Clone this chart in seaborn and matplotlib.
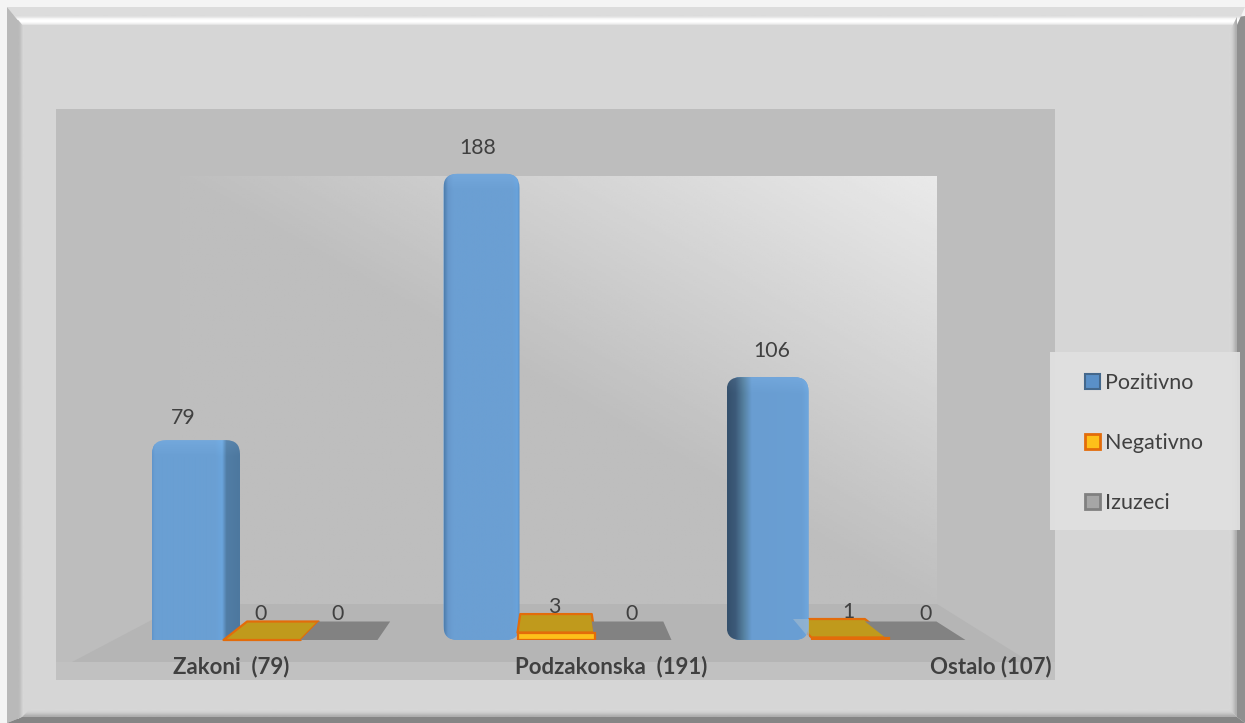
import numpy as np
import pandas as pd
import matplotlib
matplotlib.use("Agg")
import matplotlib.pyplot as plt
import seaborn as sns
from matplotlib.patches import FancyBboxPatch, Polygon, Rectangle, Patch
from matplotlib.transforms import ScaledTranslation

categories = ["Zakoni  (79)", "Podzakonska  (191)", "Ostalo (107)"]
series_names = ["Pozitivno", "Negativno", "Izuzeci"]
pozitivno = [79, 188, 106]
negativno = [0, 3, 1]
izuzeci = [0, 0, 0]

W, H = 1245, 723
TEXT = "#404040"

sns.set_theme(style="white")
plt.rcParams["font.family"] = ["Lato", "DejaVu Sans"]

df = pd.DataFrame({
    "kategorija": categories * 3,
    "serija": np.repeat(series_names, 3),
    "broj": pozitivno + negativno + izuzeci,
})

fig = plt.figure(figsize=(W / 100, H / 100), dpi=100, facecolor="#f4f4f4")

# pozadina u pikselima: okvir, panel, zidovi i pod
bg = fig.add_axes([0, 0, 1, 1], zorder=0)
bg.set_xlim(0, W)
bg.set_ylim(H, 0)
bg.axis("off")


def poly(points, color, z=1):
    p = Polygon(points, closed=True, facecolor=color, edgecolor="none", zorder=z)
    bg.add_patch(p)
    return p


def rect(x, y, w, h, color, z=1, alpha=None):
    bg.add_patch(Rectangle((x, y), w, h, facecolor=color, edgecolor="none", zorder=z, alpha=alpha))


def strip(values, extent, clip, vertical=True, z=2):
    arr = np.array(values, dtype=float)
    arr = arr[:, None] if vertical else arr[None, :]
    im = bg.imshow(arr, extent=extent, cmap="gray", vmin=0, vmax=1, aspect="auto",
                   interpolation="bilinear", zorder=z)
    im.set_clip_path(clip)


L, R, T, B = 7, 1245, 7, 723
IL, IR, IT, IB = 22, 1237, 25, 717
rect(IL, IT, IR - IL, IB - IT, "#d6d6d6", 1)
top_band = poly([(L, T), (R, T), (IR, IT), (IL, IT)], "#dcdcdc", 2)
left_band = poly([(L, T), (IL, IT), (IL, IB), (L, B)], "#b9b9b9", 2)
poly([(R, T + 9), (R, B), (IR, IB), (IR, IT - 8)], "#8f8f8f", 2)
poly([(L, B), (IL, IB), (IR, IB), (R, B)], "#858585", 2)
strip([0.86, 0.9, 0.97, 1, 1, 0.96, 0.89, 0.84], (L, R, 27, 15), top_band)
right_in = poly([(1229, 33), (IR, IT - 8), (IR, IB), (1229, 709)], "#d6d6d6", 2)
bottom_in = poly([(30, 709), (1229, 709), (IR, IB), (IL, IB)], "#d6d6d6", 2)
left_in = poly([(18, 20), (24, 27), (24, 715), (18, 719)], "#d6d6d6", 2)
strip([0.73, 0.75, 0.8, 0.84], (18, 24, 723, 7), left_in, vertical=False)
strip([0.84, 0.82, 0.76, 0.68], (1229, IR, 723, 7), right_in, vertical=False)
strip([0.84, 0.82, 0.76, 0.68], (L, R, IB, 709), bottom_in)

rect(56, 109, 999, 571, "#bdbdbd", 3)
poly([(72, 662), (182, 604), (937, 604), (1030, 662)], "#b5b5b5", 4)
rect(56, 662, 999, 18, "#c1c1c1", 4)

xx, yy = np.meshgrid(np.linspace(0, 1, 200), np.linspace(0, 1, 200))
wall = 0.745 + 0.17 * np.clip(xx - yy, 0, 1)
bg.imshow(wall, extent=(180, 937, 604, 176), cmap="gray", vmin=0, vmax=1,
          aspect="auto", zorder=4)

# okvir legende
rect(1050, 352, 190, 178, "#e0e0e0", 5, alpha=0.95)
bg.set_xlim(0, W)
bg.set_ylim(H, 0)

# pravi grafikon: baza 640 px, 2.48 px po jedinici
ax_h = 530
step = 294
ax = fig.add_axes([(556 - 1.5 * step) / W, (H - 640) / H, 3 * step / W, ax_h / H], zorder=1)
ax.patch.set_alpha(0)
palette = {"Pozitivno": "#6a9fd4", "Negativno": "#fdc01a", "Izuzeci": "#828282"}
sns.barplot(data=df, x="kategorija", y="broj", hue="serija", hue_order=series_names,
            order=categories, palette=palette, width=231 / step, gap=0, saturation=1,
            legend=False, ax=ax)
ymax = ax_h / 2.48
ax.set_xlim(-0.5, 2.5)
ax.set_ylim(0, ymax)
ax.set_xlabel("")
ax.set_ylabel("")
ax.set_yticks([])
sns.despine(ax=ax, left=True, bottom=True)
ax.tick_params(axis="x", length=0, pad=11)

px_x = 1 / step
px_y = 1 / 2.48

bars = list(ax.containers)
blue_bars, neg_bars, gray_bars = bars[0].patches, bars[1].patches, bars[2].patches

# bocna strana i zaobljenje svakog plavog stuba (lijevo, desno u px)
side_left = [5.5, 3, -8]
side_right = [16.5, 2, -3]
top_extra = [4, 0, 0]
bottom_extra = [14, 0, 0]
stops = [
    ([0, 0.03, 0.72, 0.8, 0.85, 1], ["#6095cb", "#6a9fd3", "#6a9fd3", "#6ba5dc", "#517da5", "#4d789f"]),
    ([0, 0.05, 0.12, 0.9, 0.97, 1], ["#4f7fae", "#6697cb", "#6b9fd3", "#6b9fd3", "#69a3dc", "#5a90c4"]),
    ([0, 0.1, 0.2, 0.3, 0.92, 1], ["#35506c", "#3c5a79", "#55809f", "#699dd1", "#6a9fd4", "#6ea7de"]),
]


def hex_rgb(c):
    return np.array(matplotlib.colors.to_rgb(c))


for i, bar in enumerate(blue_bars):
    x0 = bar.get_x() + side_left[i] * px_x
    x1 = bar.get_x() + bar.get_width() + side_right[i] * px_x
    top = bar.get_height() + top_extra[i] * px_y
    box_bottom = -bottom_extra[i] * px_y
    box = FancyBboxPatch((x0, box_bottom), x1 - x0, top - box_bottom,
                         boxstyle=f"round,pad=0,rounding_size={14 * px_x}",
                         mutation_aspect=px_y / px_x, facecolor="none",
                         edgecolor="none", transform=ax.transData, zorder=4)
    ax.add_patch(box)
    bar.set_clip_path(box)
    bar.set_edgecolor("none")
    pos, cols = stops[i]
    rgb = np.array([hex_rgb(c) for c in cols])
    t = np.linspace(0, 1, 120)
    row = np.stack([np.interp(t, pos, rgb[:, k]) for k in range(3)], axis=1)
    nrow = 400
    grad = np.repeat(row[None, :, :], nrow, axis=0)
    shine = np.clip(1 - np.arange(nrow) / (16 / (top / px_y) * nrow), 0, 1)
    grad = np.clip(grad + 0.035 * shine[:, None, None], 0, 1)
    im = ax.imshow(grad, extent=(x0, x1, 0, top), aspect="auto", zorder=4)
    im.set_clip_path(box)

ax.set_xlim(-0.5, 2.5)
ax.set_ylim(0, ymax)

# ravni stubovi leze na podu, vrh ide ka sredini slike
depth = 18.5 * px_y


def back(x):
    return x + 0.071 * (1.0 - x)


for bar_list, top_col, front_col, edge, lw in [
    (neg_bars, "#c09a1c", "#fdc01a", "#e36c0a", 1.6),
    (gray_bars, "#828282", "#828282", "none", 0),
]:
    for i, bar in enumerate(bar_list):
        x0, x1 = bar.get_x(), bar.get_x() + bar.get_width()
        h = bar.get_height()
        z = 3.5 if i == 2 else 5
        bar.set_facecolor(front_col)
        bar.set_edgecolor(edge)
        bar.set_linewidth(lw if h > 0 else 0)
        bar.set_zorder(z + 0.2)
        ax.add_patch(Polygon([(x0, h), (x1, h), (back(x1), h + depth), (back(x0), h + depth)],
                             closed=True, facecolor=top_col, edgecolor=edge, lw=lw,
                             joinstyle="round", zorder=z, clip_on=False))

# dio narandzastog vrha koji se nazire kroz treci plavi stub
nb = neg_bars[2]
x0, x1 = nb.get_x(), blue_bars[2].get_x() + blue_bars[2].get_width() + side_right[2] * px_x
ax.add_patch(Polygon([(back(x0), nb.get_height() + depth), (x1, nb.get_height() + depth),
                      (x1, nb.get_height())],
                     closed=True, facecolor="#9db8cf", alpha=0.7, edgecolor="none", zorder=4.5))

# vrijednosti iznad stubova
for bar_list in (blue_bars, neg_bars, gray_bars):
    for bar in bar_list:
        ax.annotate(f"{bar.get_height():.0f}", (bar.get_x() + bar.get_width() / 2, bar.get_height()),
                    xytext=(-1, 26 * 0.72), textcoords="offset points", ha="center", va="center",
                    fontsize=15.3, color=TEXT, zorder=6, annotation_clip=False)

# natpisi kategorija pomjereni kao u originalu
label_shift = [-31, 55, 141]
for lbl, dx in zip(ax.get_xticklabels(), label_shift):
    lbl.set_fontweight("bold")
    lbl.set_fontsize(16)
    lbl.set_color(TEXT)
    lbl.set_transform(lbl.get_transform() + ScaledTranslation(dx / 100, 0, fig.dpi_scale_trans))

# legenda
handles = [
    Patch(facecolor="#5a90c8", edgecolor="#44688c", lw=1.5),
    Patch(facecolor="#fdc01a", edgecolor="#e36c0a", lw=2),
    Patch(facecolor="#a6a6a6", edgecolor="#808080", lw=2),
]
leg = fig.legend(handles, series_names, loc="center left", bbox_to_anchor=(1085 / W, (H - 443) / H),
                 frameon=False, fontsize=15.5, labelcolor=TEXT, handlelength=0.7, handleheight=0.7,
                 handletextpad=0.25, labelspacing=1.86, borderpad=0, borderaxespad=0)
leg.set_zorder(5)

fig.savefig("out.png", dpi=100, facecolor=fig.get_facecolor())
